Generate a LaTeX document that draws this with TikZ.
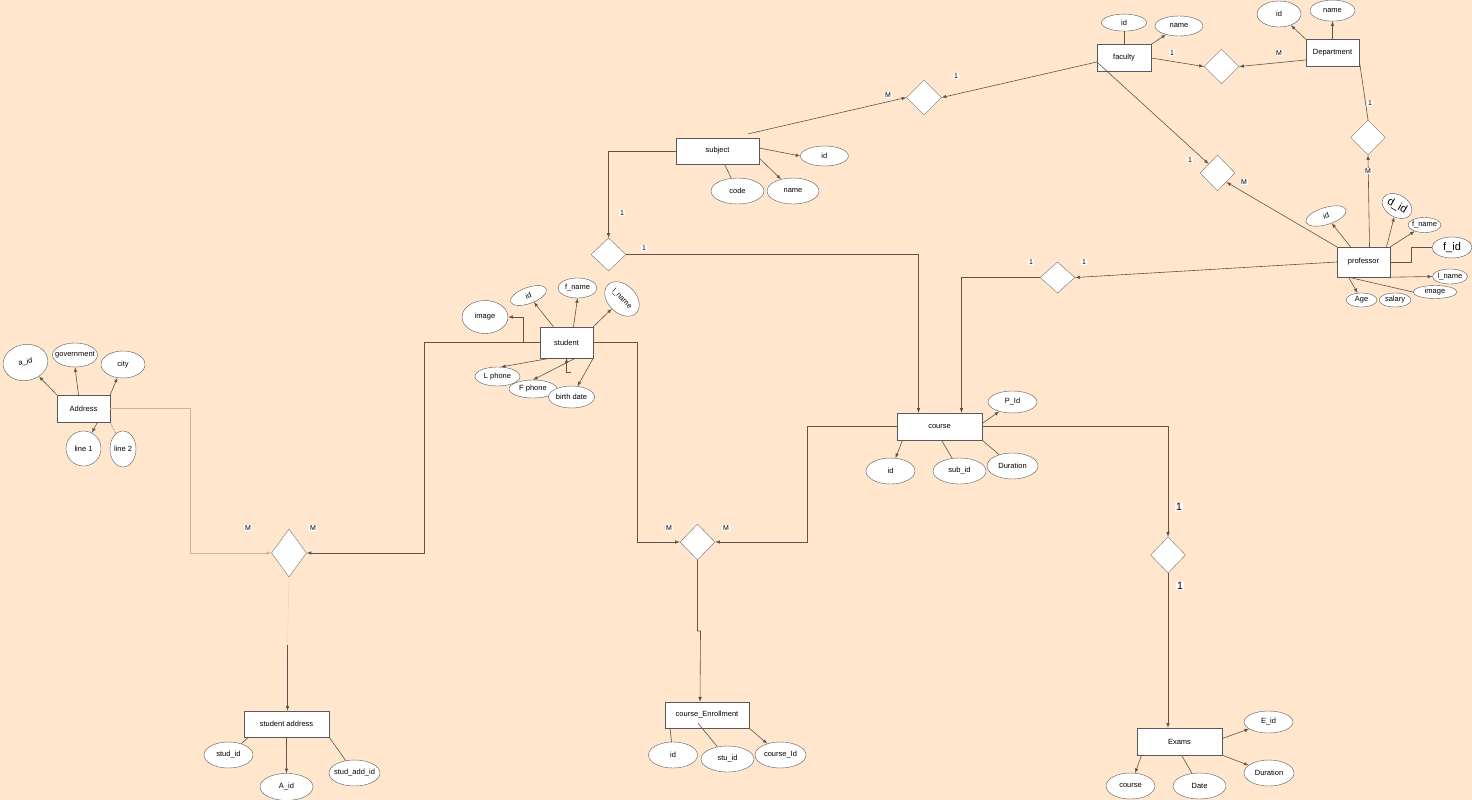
\documentclass[tikz,border=0pt]{standalone}
\usepackage{fontspec}
\setmainfont{Liberation Sans}
\usepackage{tikz}
\usetikzlibrary{shapes.geometric,positioning}

\definecolor{peach}{HTML}{FFE6CC}
\definecolor{linec}{HTML}{5E544C}
\definecolor{lightline}{HTML}{C9B39F}
\definecolor{faintline}{HTML}{F3D7BD}

\begin{document}
\begin{tikzpicture}[x=1pt, y=-1pt, font=\fontsize{7.5}{9}\selectfont]
		\tikzstyle{entity}=[rectangle, draw=black!65, fill=white, inner sep=0pt, minimum width=54, minimum height=27]
		\tikzstyle{rel}=[diamond, draw=black!55, fill=white, inner sep=0pt, minimum width=35, minimum height=35]
		\tikzstyle{attr}=[ellipse, draw=black!65, fill=white, inner sep=0pt, minimum width=49, minimum height=26]
		\tikzstyle{connect}=[-latex, draw=linec, line width=0.6pt]
		\tikzstyle{plain}=[draw=linec, line width=0.6pt]
		\tikzstyle{card}=[fill=white, inner sep=0.6pt, font=\fontsize{7}{8}\selectfont]
		\tikzstyle{bigcard}=[card, font=\fontsize{10.5}{12}\selectfont]
		\fill[peach] (0,0) rectangle (1472,800);
		\useasboundingbox (0,0) rectangle (1472,800);
		
		% entities
		\node[entity] (fac) at (1124,58) {faculty};
		\node[entity, minimum width=53] (dept) at (1332.5,53) {Department};
		\node[entity, minimum width=83, minimum height=26] (subj) at (717.5,151) {subject};
		\node[entity, minimum width=53, minimum height=30] (prof) at (1363.5,262) {professor};
		\node[entity, minimum width=53, minimum height=31] (stud) at (566.5,342.5) {student};
		\node[entity, minimum width=85] (course) at (939.5,426.5) {course};
		\node[entity, minimum width=53] (addr) at (83.5,408.5) {Address};
		\node[entity, minimum width=85] (exams) at (1179.5,741.5) {Exams};
		\node[entity, minimum width=84, minimum height=26] (enroll) at (707,715) {course\_Enrollment};
		\node[entity, minimum width=85, minimum height=26] (sadr) at (286.5,724) {student address};
		
		% relationships
		\node[rel] (dFD) at (1221.5,66.5) {};
		\node[rel, minimum height=36] (dFP) at (1217.5,173) {};
		\node[rel] (dDP) at (1368,137.5) {};
		\node[rel] (dSF) at (924,97.5) {};
		\node[rel, minimum height=33] (dSCo) at (608.5,254.5) {};
		\node[rel, minimum height=31] (dPC) at (1057.5,277.5) {};
		\node[rel, minimum height=36] (dSC) at (697.5,542) {};
		\node[rel, minimum height=48] (dSA) at (289,553) {};
		\node[rel, minimum height=36] (dCE) at (1168,555) {};
		
		% faculty / department
		\node[attr, minimum width=45, minimum height=17] (facid) [above=13pt of fac] {id};
		\node[attr, minimum width=48, minimum height=20] (facname) at (1179,26) {name};
		\node[attr, minimum width=44, minimum height=26] (deptid) at (1279,14) {id};
		\node[attr, minimum width=45, minimum height=21] (deptname) [above=18pt of dept] {name};
		
		% professor
		\node[attr, minimum width=42, minimum height=17, rotate=17] (profid) at (1326,216) {id};
		\node[attr, minimum width=32, minimum height=22, rotate=-30, font=\fontsize{11}{12}\selectfont] (profdid) at (1397,206) {d\_id};
		\node[attr, minimum width=33, minimum height=15] (proffname) at (1424.5,225) {\makebox[0pt]{f\_name}};
		\node[attr, minimum width=40, minimum height=21, font=\fontsize{11}{12}\selectfont] (proffid) at (1452,247.5) {f\_id};
		\node[attr, minimum width=35, minimum height=15] (proflname) at (1450,276.5) {\makebox[0pt]{l\_name}};
		\node[attr, minimum width=44, minimum height=13] (profimage) at (1435,292) {image};
		\node[attr, minimum width=31, minimum height=14] (profage) at (1361.5,300) {Age};
		\node[attr, minimum width=32, minimum height=14] (profsalary) at (1395,300) {salary};
		
		% subject
		\node[attr, minimum width=48, minimum height=20] (subjid) [right=41pt of subj, yshift=-5pt] {id};
		\node[attr, minimum width=53] (subjcode) at (737.5,191) {code};
		\node[attr, minimum width=52] (subjname) at (793,191) {name};
		
		% course
		\node[attr, minimum width=49, minimum height=22] (courseP) at (1012.5,402) {P\_Id};
		\node[attr] (courseid) at (890.5,471) {id};
		\node[attr, minimum width=53] (coursesub) at (959.5,471) {sub\_id};
		\node[attr, minimum width=51] (coursedur) at (1012.5,466) {Duration};
		
		% exams
		\node[attr, minimum width=49, minimum height=22] (exEid) at (1268.5,722) {E\_id};
		\node[attr, minimum width=50] (exdur) at (1269,773) {Duration};
		\node[attr] (excourse) at (1130.5,786) {course};
		\node[attr, minimum width=53] (exdate) at (1199.5,786) {Date};
		
		% student
		\node[attr, minimum width=46, minimum height=33] (studimage) at (485,317) {image};
		\node[attr, minimum width=38, minimum height=16, rotate=20] (studid) at (528.5,295.5) {id};
		\node[attr, minimum width=39, minimum height=20] (studfname) at (577.5,288) {f\_name};
		\node[attr, minimum width=40, minimum height=28, rotate=-45] (studlname) at (622,299) {l\_name};
		\node[attr, minimum width=45, minimum height=19] (studlphone) at (497.5,376.5) {L phone};
		\node[attr, minimum width=48, minimum height=18] (studfphone) at (533,389) {F phone};
		\node[attr, minimum width=46, minimum height=22] (studbirth) at (571.5,397) {birth date};
		
		% address
		\node[attr, minimum width=45, minimum height=36, rotate=10] (addraid) at (25.5,362.5) {a\_id};
		\node[attr, minimum width=45, minimum height=24] (addrgov) at (75,355) {\makebox[0pt]{government}};
		\node[attr, minimum width=44, minimum height=27] (addrcity) at (123,364.5) {city};
		\node[attr, minimum width=35, minimum height=35] (addrl1) at (83.5,448.5) {line 1};
		\node[attr, minimum width=26, minimum height=36] (addrl2) at (123,449) {line 2};
		
		% enrollment
		\node[attr] (enrid) at (673,755) {id};
		\node[attr, minimum width=53] (enrstu) at (727.5,759) {stu\_id};
		\node[attr, minimum width=51] (enrcourse) at (780.5,755) {course\_Id};
		
		% student address
		\node[attr] (sadstud) at (228.5,755) {stud\_id};
		\node[attr, minimum width=53, minimum height=27] (sadaid) [below=36pt of sadr] {A\_id};
		\node[attr, minimum width=51] (sadstudadd) at (354.5,773) {\makebox[0pt]{stud\_add\_id}};
		
		% attribute links
		\path (fac.north) edge [plain] (facid.south);
		\path (fac.north east) edge [connect] (facname);
		\path (dept.north west) edge [connect] (deptid);
		\path (dept.north) edge [connect] (deptname.south);
		\path ([xshift=-13pt]prof.north) edge [connect] (profid);
		\path ([xshift=23pt]prof.north) edge [connect] (profdid);
		\path (prof.north east) edge [connect] (proffname);
		\draw[plain] (prof.east) -- ++(21,0) |- (proffid.west);
		\path (prof.south east) edge [connect] (proflname.west);
		\path ([xshift=-15pt]prof.south) edge [plain] (profimage.west);
		\path ([xshift=-15pt]prof.south) edge [connect] (profage);
		\path ([yshift=3pt]subj.east) edge [connect] (subjid.west);
		\path ([xshift=7pt]subj.south) edge [plain] (subjcode);
		\path ([yshift=-7pt]subj.east) edge [connect] (subjname);
		\path ([yshift=3pt]course.east) edge [connect] (courseP);
		\path ([xshift=-37pt]course.south) edge [connect] (courseid);
		\path ([xshift=2pt]course.south) edge [plain] (coursesub);
		\path (course.south east) edge [plain] (coursedur);
		\path ([yshift=3pt]exams.east) edge [connect] (exEid);
		\path (exams.south east) edge [connect] (exdur);
		\path ([xshift=-38pt]exams.south) edge [connect] (excourse);
		\path ([xshift=2pt]exams.south) edge [plain] (exdate);
		\draw[connect] ([xshift=-17pt]stud.west) |- (studimage.east);
		\path ([xshift=-13pt]stud.north) edge [connect] (studid);
		\path ([xshift=7pt]stud.north) edge [connect] (studfname.south);
		\path (stud.north east) edge [connect] (studlname);
		\path ([xshift=-16pt]stud.south) edge [connect] (studlphone.70);
		\path ([xshift=9pt]stud.south) edge [connect] (studfphone.north);
		\path (stud.south east) edge [connect] (studbirth);
		\coordinate (stub) at (571,372);
		\draw[connect] (stub) -| (stud.south);
		\path (addr.north west) edge [connect] (addraid);
		\path ([xshift=-5pt]addr.north) edge [connect] (addrgov.south);
		\path (addr.north east) edge [connect] (addrcity);
		\path ([xshift=14pt]addr.south) edge [connect] (addrl1);
		\path (addr.south east) edge [plain, densely dotted] (addrl2);
		\path ([xshift=-37pt]enroll.south) edge [plain] (enrid);
		\path ([xshift=-9pt, yshift=5pt]enroll.south) edge [plain] (enrstu);
		\path (enroll.south east) edge [connect] (enrcourse);
		\path ([xshift=-38pt]sadr.south) edge [plain] (sadstud);
		\path (sadr.south) edge [connect] (sadaid.north);
		\path (sadr.south east) edge [plain] (sadstudadd);
		
		% relationship links
		\path (fac.east) edge [connect] (dFD.west);
		\path ([yshift=-7pt]dept.west) edge [connect] (dFD.east);
		\path ([yshift=-7pt]dept.east) edge [plain] (dDP.north);
		\path ([xshift=6pt]prof.north) edge [connect] (dDP.south);
		\path ([yshift=-4pt]fac.west) edge [connect] (dFP.north west);
		\path (prof.north west) edge [connect] (dFP.south east);
		\path ([yshift=-4pt]fac.west) edge [connect] (dSF.east);
		\path ([xshift=31pt, yshift=4pt]subj.north) edge [connect] (dSF.west);
		\path (prof.west) edge [connect] (dPC.east);
		\draw[connect] (dPC.west) -| ([xshift=22pt]course.north);
		\draw[connect] (subj.west) -| (dSCo.north);
		\draw[connect] (dSCo.east) -| ([xshift=-21pt]course.north);
		\draw[connect] (course.west) -- ++(-90,0) |- (dSC.east);
		\draw[connect] (stud.east) -- ++(44,0) |- (dSC.west);
		\draw[connect] (stud.west) -- (424,342.5) |- (dSA.east);
		\draw[connect, draw=lightline] (addr.east) -- (190,408.5) |- (dSA.west);
		\coordinate (brk) at (287.5,645);
		\draw[draw=faintline, line width=0.6pt] (dSA.south) -- (brk);
		\draw[connect] (brk) -- ([xshift=1pt]sadr.north);
		\coordinate (jog) at (697.5,631);
		\draw[connect] (dSC.south) -- (jog) -- ++(3,0) -- ([xshift=-7pt]enroll.north);
		\draw[connect] (course.east) -| (dCE.north);
		\path (dCE.south) edge [connect] ([xshift=-11.5pt]exams.north);
		
		% cardinalities
		\node[card] (c1) at (1172,53) {1};
		\node[card] (c2) at (1279,53) {M};
		\node[card] (c3) at (1370,103) {1};
		\node[card] (c4) at (1368,171) {M};
		\node[card] (c5) at (1190,160) {1};
		\node[card] (c6) at (1244,182) {M};
		\node[card] (c7) at (956,76) {1};
		\node[card] (c8) at (888,95) {M};
		\node[card] (c9) at (622,213) {1};
		\node[card] (c10) at (644,248) {1};
		\node[card] (c11) at (1031,262) {1};
		\node[card] (c12) at (1084,262) {1};
		\node[card] (c13) at (726,528) {M};
		\node[card] (c14) at (669,528) {M};
		\node[card] (c15) at (313,528) {M};
		\node[card] (c16) at (248,528) {M};
		\node[bigcard] (c17) at (1179,507) {1};
		\node[bigcard] (c18) at (1180,586) {1};
	\end{tikzpicture}
\end{document}
